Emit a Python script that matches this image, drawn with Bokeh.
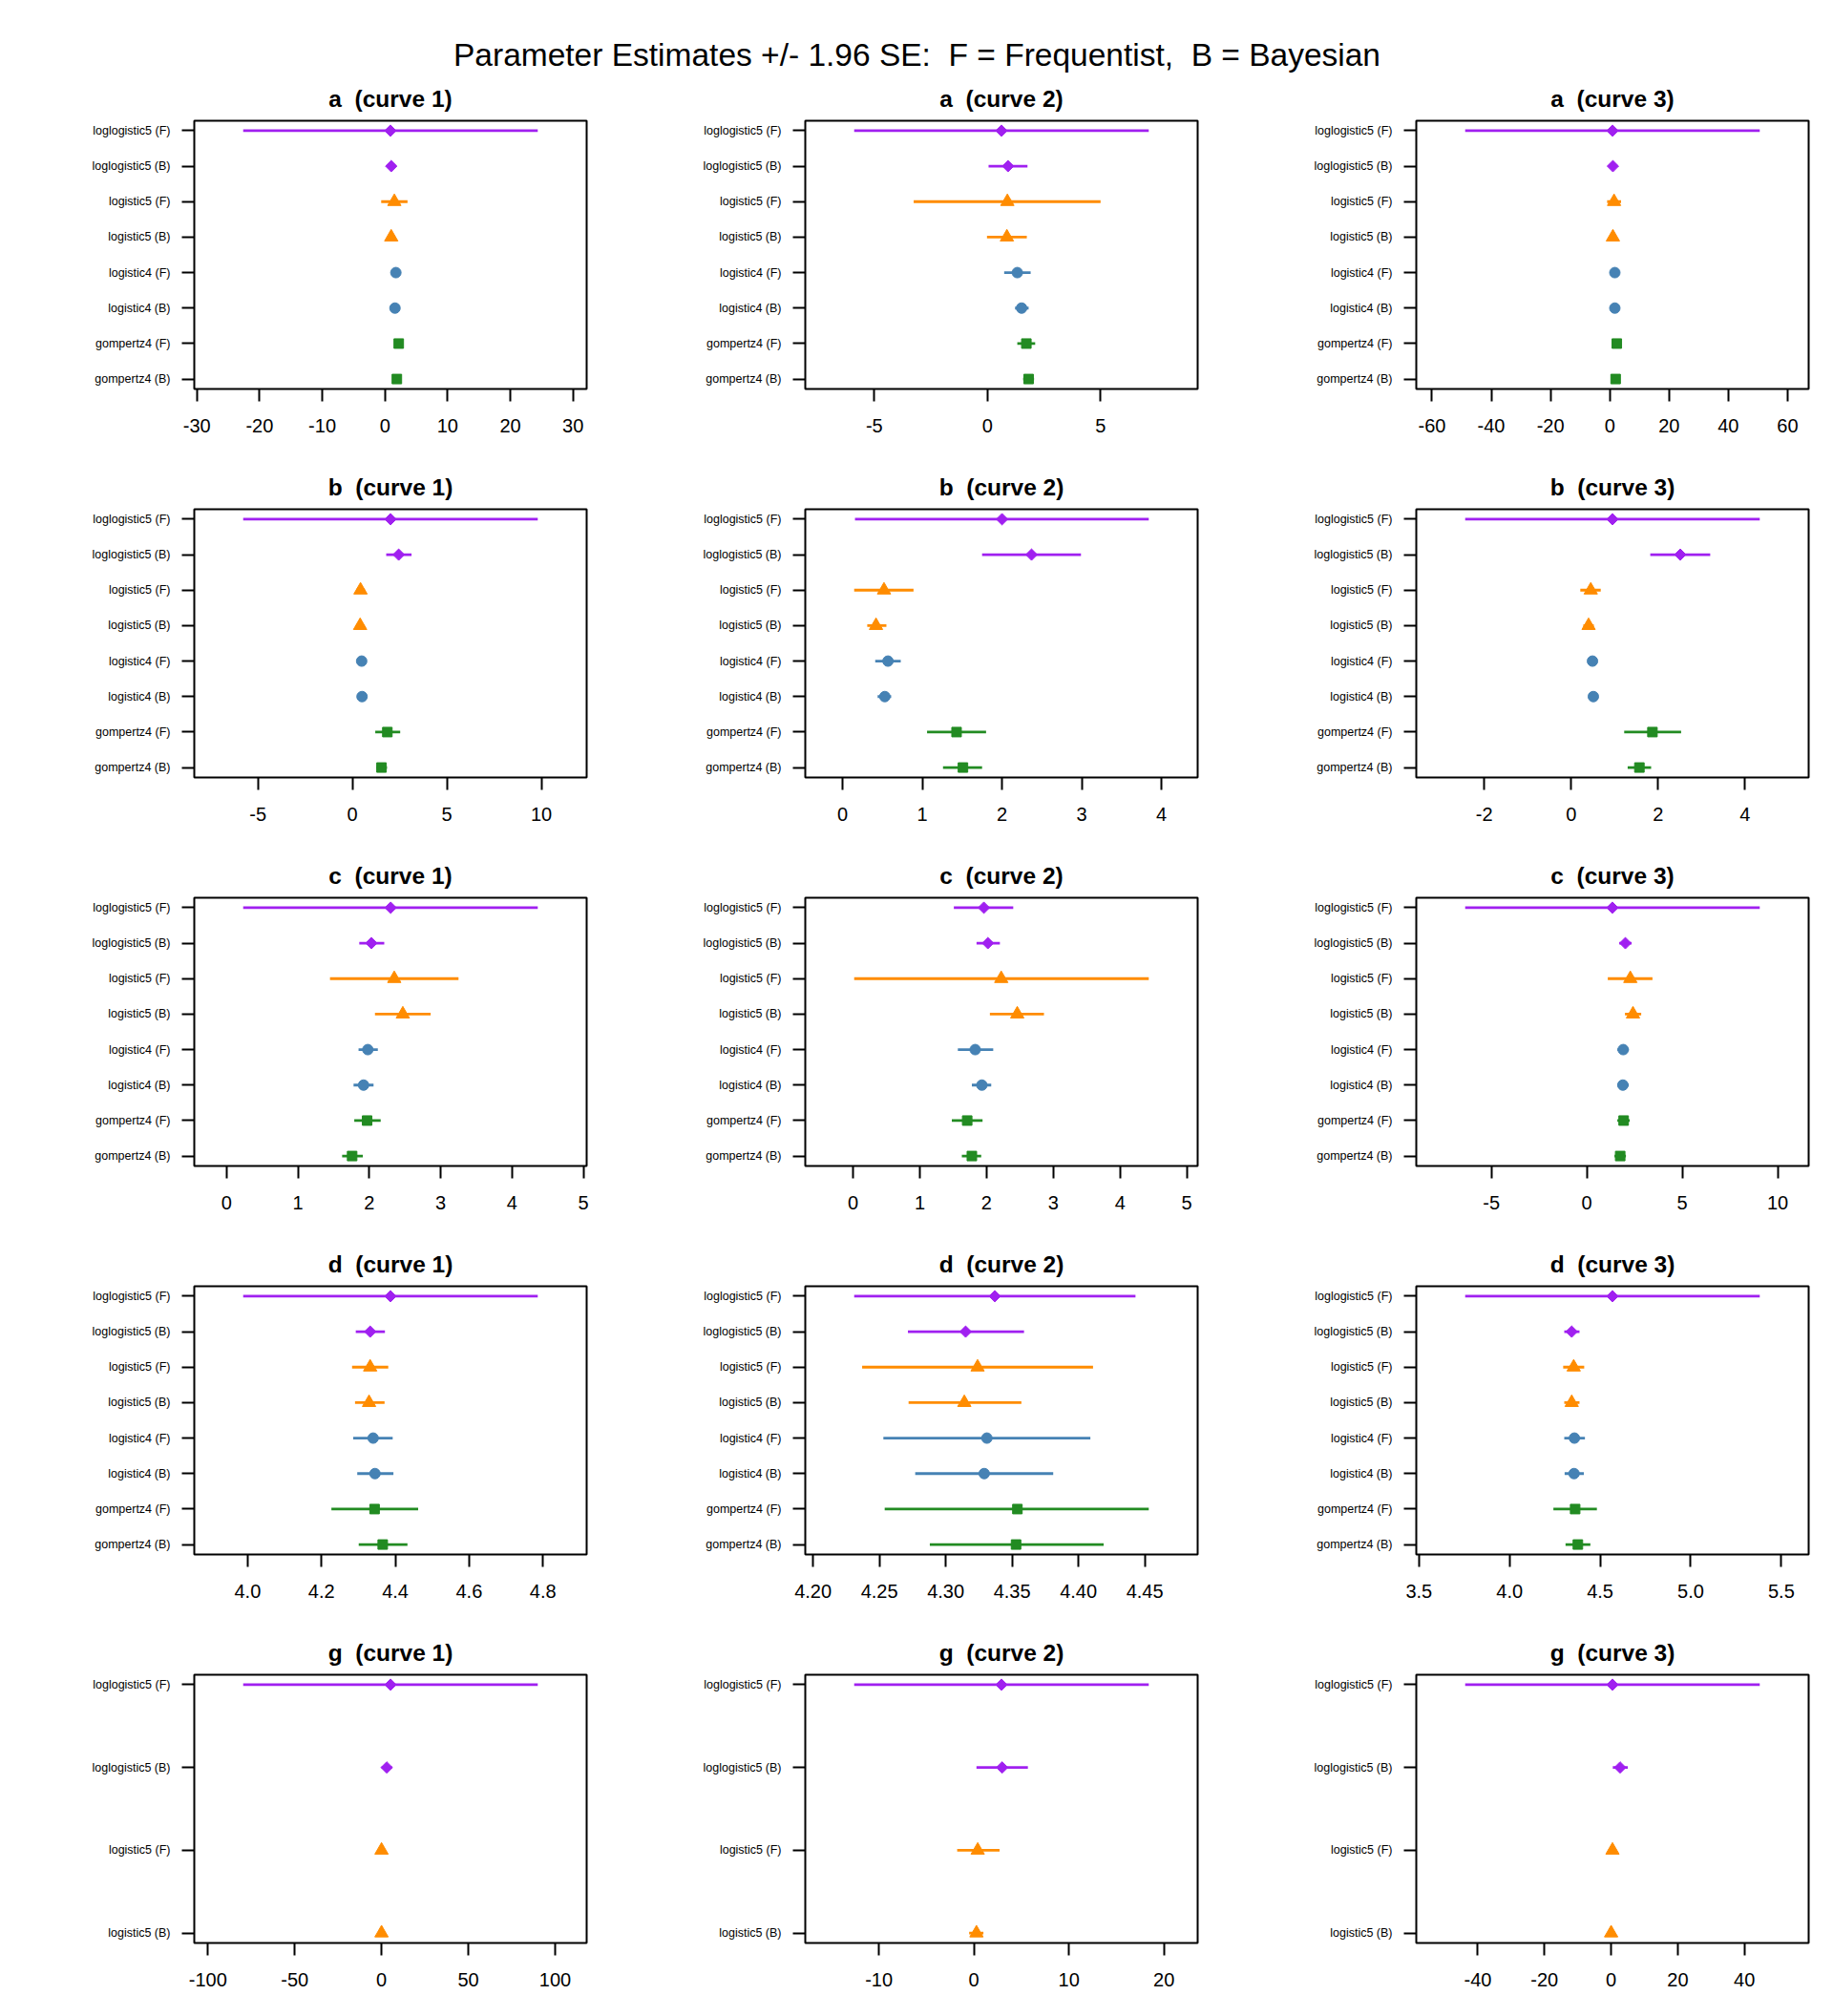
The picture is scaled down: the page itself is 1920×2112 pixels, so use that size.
import numpy as np
from bokeh.plotting import figure
from bokeh.layouts import gridplot, column
from bokeh.models import FixedTicker, Range1d, ColumnDataSource, PrintfTickFormatter
from bokeh.embed import file_html
from bokeh.resources import INLINE
from bokeh.core.properties import value

# ---------------- data ----------------
NB = "\u00a0"  # keeps the doubled spaces of the original titles visible
main_title = f"Parameter Estimates +/- 1.96 SE: {NB}F = Frequentist, {NB}B = Bayesian"
models = ["loglogistic5 (F)", "loglogistic5 (B)", "logistic5 (F)", "logistic5 (B)",
          "logistic4 (F)", "logistic4 (B)", "gompertz4 (F)", "gompertz4 (B)"]
params = ["a", "b", "c", "d", "g"]
curves = ["curve 1", "curve 2", "curve 3"]

# each list: [curve 1, curve 2, curve 3], entries follow `models` order
est_a = [[0.87, 1.0, 1.5, 1.0, 1.74, 1.6, 2.2, 1.9],
         [0.62, 0.91, 0.88, 0.86, 1.32, 1.51, 1.72, 1.82],
         [0.92, 1.05, 1.44, 1.05, 1.7, 1.7, 2.36, 1.97]]
lo_a = [[-22.62, 0.4, -0.6, 0.4, 1.2, 1.1, 1.7, 1.4],
        [-5.89, 0.05, -3.26, -0.02, 0.74, 1.22, 1.32, 1.58],
        [-48.8, 0.0, -0.9, 0.0, 0.7, 0.7, 1.4, 1.0]]
hi_a = [[24.38, 1.6, 3.6, 1.6, 2.3, 2.1, 2.7, 2.4],
        [7.13, 1.77, 5.0, 1.74, 1.91, 1.82, 2.11, 2.06],
        [50.6, 2.1, 3.8, 2.1, 2.7, 2.7, 3.3, 2.9]]

est_b = [[2.02, 2.45, 0.43, 0.41, 0.49, 0.51, 1.85, 1.54],
         [2.0, 2.37, 0.52, 0.42, 0.57, 0.53, 1.43, 1.51],
         [0.95, 2.51, 0.45, 0.40, 0.49, 0.51, 1.87, 1.57]]
lo_b = [[-5.78, 1.79, 0.2, 0.2, 0.3, 0.3, 1.21, 1.28],
        [0.156, 1.75, 0.146, 0.31, 0.41, 0.44, 1.06, 1.26],
        [-2.44, 1.82, 0.21, 0.28, 0.42, 0.44, 1.22, 1.30]]
hi_b = [[9.81, 3.13, 0.66, 0.62, 0.68, 0.72, 2.53, 1.83],
        [3.84, 2.99, 0.89, 0.55, 0.73, 0.61, 1.80, 1.75],
        [4.34, 3.20, 0.68, 0.52, 0.56, 0.58, 2.53, 1.84]]

est_c = [[2.30, 2.03, 2.35, 2.47, 1.98, 1.92, 1.97, 1.76],
         [1.96, 2.02, 2.22, 2.46, 1.83, 1.93, 1.71, 1.78],
         [1.34, 2.02, 2.28, 2.42, 1.91, 1.89, 1.93, 1.75]]
lo_c = [[0.234, 1.86, 1.45, 2.08, 1.85, 1.78, 1.79, 1.62],
        [1.51, 1.85, 0.017, 2.05, 1.57, 1.78, 1.48, 1.63],
        [-6.37, 1.7, 1.10, 2.0, 1.6, 1.6, 1.6, 1.45]]
hi_c = [[4.36, 2.21, 3.25, 2.86, 2.12, 2.06, 2.16, 1.91],
        [2.40, 2.20, 4.43, 2.86, 2.10, 2.07, 1.94, 1.92],
        [9.06, 2.35, 3.44, 2.85, 2.2, 2.2, 2.25, 2.05]]

est_d = [[4.387, 4.332, 4.332, 4.329, 4.340, 4.345, 4.344, 4.366],
         [4.337, 4.315, 4.324, 4.314, 4.331, 4.329, 4.354, 4.353],
         [4.568, 4.343, 4.354, 4.343, 4.358, 4.356, 4.362, 4.377]]
lo_d = [[3.988, 4.293, 4.283, 4.291, 4.286, 4.297, 4.227, 4.301],
        [4.231, 4.2715, 4.237, 4.272, 4.253, 4.277, 4.254, 4.288],
        [3.755, 4.302, 4.296, 4.302, 4.302, 4.304, 4.242, 4.309]]
hi_d = [[4.786, 4.372, 4.381, 4.371, 4.393, 4.395, 4.462, 4.433],
        [4.443, 4.359, 4.411, 4.357, 4.409, 4.381, 4.453, 4.419],
        [5.381, 4.386, 4.412, 4.386, 4.416, 4.41, 4.482, 4.446]]

# g: only the first four models
est_g = [[5.2, 3.0, 0.0, 0.0],
         [2.9, 2.97, 0.4, 0.27],
         [0.4, 2.7, 0.4, 0.0]]
lo_g = [[-79.7, 0.0, -2.0, -2.0],
        [-12.6, 0.27, -1.76, -0.5],
        [-43.8, 0.5, -0.8, -0.8]]
hi_g = [[90.0, 6.0, 2.0, 2.0],
        [18.4, 5.68, 2.7, 1.0],
        [44.6, 5.0, 1.6, 0.8]]

xticks_a = [["-30", "-20", "-10", "0", "10", "20", "30"], ["-5", "0", "5"],
            ["-60", "-40", "-20", "0", "20", "40", "60"]]
xticks_b = [["-5", "0", "5", "10"], ["0", "1", "2", "3", "4"], ["-2", "0", "2", "4"]]
xticks_c = [["0", "1", "2", "3", "4", "5"], ["0", "1", "2", "3", "4", "5"],
            ["-5", "0", "5", "10"]]
xticks_d = [["4.0", "4.2", "4.4", "4.6", "4.8"],
            ["4.20", "4.25", "4.30", "4.35", "4.40", "4.45"],
            ["3.5", "4.0", "4.5", "5.0", "5.5"]]
xticks_g = [["-100", "-50", "0", "50", "100"], ["-10", "0", "10", "20"],
            ["-40", "-20", "0", "20", "40"]]

EST = {"a": est_a, "b": est_b, "c": est_c, "d": est_d, "g": est_g}
LO = {"a": lo_a, "b": lo_b, "c": lo_c, "d": lo_d, "g": lo_g}
HI = {"a": hi_a, "b": hi_b, "c": hi_c, "d": hi_d, "g": hi_g}
XT = {"a": xticks_a, "b": xticks_b, "c": xticks_c, "d": xticks_d, "g": xticks_g}

# ---------------- style ----------------
FONT = "Liberation Sans"
STYLE = {
    "loglogistic5": dict(marker="square", angle=np.pi / 4, size=8.5, color="#A020F0"),
    "logistic5": dict(marker="triangle", angle=0.0, size=14, color="#FF8C00"),
    "logistic4": dict(marker="circle", angle=0.0, size=11, color="#4682B4"),
    "gompertz4": dict(marker="square", angle=0.0, size=10, color="#228B22"),
}
PAD = 0.166  # frame padding as fraction of interval span


def panel(param, ci):
    est = EST[param][ci]
    lo = LO[param][ci]
    hi = HI[param][ci]
    n = len(est)
    labs = models[:n]
    pos = list(range(1, n + 1))
    fam = [m.split()[0] for m in labs]
    xmin, xmax = min(lo), max(hi)
    span = xmax - xmin
    ypad = 0.04 * (n - 1)
    p = figure(width=640, height=407,
               x_range=Range1d(xmin - PAD * span, xmax + PAD * span),
               y_range=Range1d(n + ypad, 1 - ypad),
               output_backend="svg", toolbar_location=None,
               min_border_left=203, min_border_right=26,
               min_border_top=49, min_border_bottom=77)
    p.background_fill_color = "white"
    p.border_fill_color = "white"
    p.xgrid.visible = False
    p.ygrid.visible = False
    p.outline_line_color = "black"
    p.outline_line_width = 2
    p.outline_line_alpha = 1.0

    p.title.text = f"{param} {NB}({curves[ci]})"
    p.title.align = "center"
    p.title.text_font = FONT
    p.title.text_font_size = "24.5px"
    p.title.text_font_style = "bold"
    p.title.text_color = "black"
    p.title.standoff = 20

    for f, st in STYLE.items():
        idx = [i for i in range(n) if fam[i] == f]
        if not idx:
            continue
        s = ColumnDataSource(dict(lo=[lo[i] for i in idx], hi=[hi[i] for i in idx],
                                  est=[est[i] for i in idx], pos=[pos[i] for i in idx]))
        p.segment(x0="lo", y0="pos", x1="hi", y1="pos", source=s,
                  line_color=st["color"], line_width=2.8)
        p.scatter(x="est", y="pos", source=s, marker=st["marker"], size=st["size"],
                  angle=st["angle"], fill_color=st["color"], line_color=st["color"],
                  line_width=1)

    xt = XT[param][ci]
    dec = len(xt[0].split(".")[1]) if "." in xt[0] else 0
    p.xaxis.ticker = FixedTicker(ticks=[float(t) for t in xt])
    p.xaxis.formatter = PrintfTickFormatter(format=f"%.{dec}f")
    p.yaxis.ticker = FixedTicker(ticks=pos)
    p.yaxis.major_label_overrides = {k: labs[k - 1] for k in pos}

    for ax in (p.xaxis[0], p.yaxis[0]):
        ax.axis_line_color = None
        ax.major_tick_in = 0
        ax.major_tick_out = 13
        ax.major_tick_line_width = 2
        ax.major_tick_line_color = "black"
        ax.minor_tick_line_color = None
        ax.major_label_text_font = FONT
        ax.major_label_text_color = "black"
    p.xaxis.major_label_text_font_size = "20px"
    p.xaxis.major_label_standoff = 18
    p.yaxis.major_label_text_font_size = "12.5px"
    p.yaxis.major_label_standoff = 12
    return p


figs = [panel(pm, ci) for pm in params for ci in range(3)]
grid = gridplot(figs, ncols=3, toolbar_location=None)

head = figure(width=1920, height=77, x_range=Range1d(0, 1920), y_range=Range1d(0, 77),
              output_backend="svg", toolbar_location=None, min_border=0)
head.axis.visible = False
head.xgrid.visible = False
head.ygrid.visible = False
head.outline_line_color = None
head.background_fill_color = "white"
head.border_fill_color = "white"
head.text(x=[960], y=[20], text=[main_title], text_align="center", text_baseline="middle",
          text_font=value(FONT), text_font_size="33.5px", text_color="black")

layout = column(head, grid)
open("out.html", "w").write(file_html(layout, INLINE))
